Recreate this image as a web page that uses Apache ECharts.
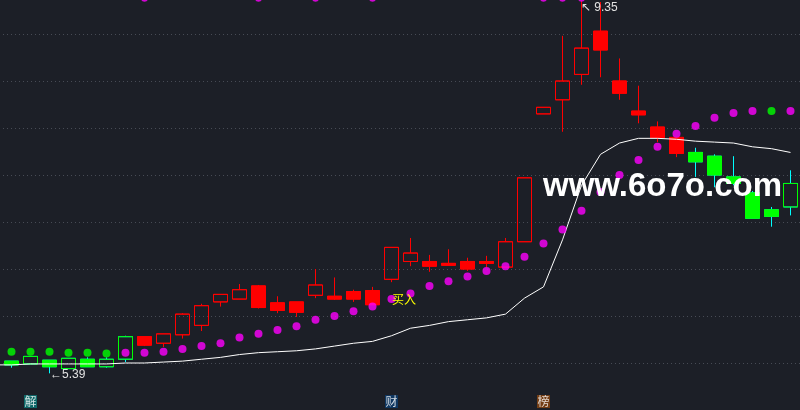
<!DOCTYPE html>
<html>
<head>
<meta charset="utf-8">
<script src="https://cdn.jsdelivr.net/npm/echarts@6/dist/echarts.min.js"></script>
<style>
html, body { margin: 0; padding: 0; background: #1c1f27; }
#main { width: 800px; height: 410px; }
</style>
</head>
<body>
<div id="main"></div>
<script>
// K-line data (first candle is cut by the left edge)
var days = ['1','2','3','4','5','6','7','8','9','10','11','12','13','14','15','16','17','18','19','20','21','22',
            '23','24','25','26','27','28','29','30','31','32','33','34','35','36','37','38','39','40','41','42','43'];

var openP  = [5.61, 5.52, 5.49, 5.53, 5.44, 5.54, 5.46, 5.54, 5.78, 5.71, 5.80, 5.90, 6.15, 6.18, 6.32, 6.14,
              6.15, 6.22, 6.21, 6.26, 6.27, 6.39, 6.58, 6.58, 6.56, 6.58, 6.58, 6.52, 6.79, 8.15, 8.30, 8.57,
              9.03, 8.50, 8.18, 8.01, 7.90, 7.74, 7.70, 7.48, 7.31, 7.13, 7.16];
var closeP = [5.50, 5.48, 5.57, 5.46, 5.55, 5.46, 5.54, 5.78, 5.69, 5.81, 6.02, 6.11, 6.23, 6.28, 6.09, 6.06,
              6.04, 6.33, 6.18, 6.18, 6.12, 6.73, 6.67, 6.53, 6.54, 6.50, 6.56, 6.79, 7.47, 8.22, 8.50, 8.85,
              8.83, 8.37, 8.14, 7.90, 7.73, 7.64, 7.50, 7.41, 7.04, 7.06, 7.41];
var lowP   = [5.48, 5.45, 5.49, 5.39, 5.44, 5.46, 5.45, 5.51, 5.68, 5.67, 5.76, 5.84, 6.10, 6.18, 6.08, 6.03,
              5.99, 6.19, 6.17, 6.15, 6.12, 6.36, 6.53, 6.47, 6.54, 6.48, 6.52, 6.52, 6.79, 8.15, 7.96, 8.46,
              8.54, 8.30, 8.05, 7.85, 7.69, 7.48, 7.37, 7.39, 7.04, 6.95, 7.07];
var highP  = [5.63, 5.52, 5.57, 5.53, 5.55, 5.56, 5.56, 5.79, 5.78, 5.81, 6.03, 6.13, 6.23, 6.34, 6.33, 6.21,
              6.15, 6.50, 6.41, 6.28, 6.31, 6.73, 6.83, 6.65, 6.71, 6.62, 6.64, 6.83, 7.47, 8.22, 8.98, 9.35,
              9.34, 8.74, 8.45, 8.07, 7.90, 7.79, 7.72, 7.70, 7.33, 7.16, 7.55];
// phase colour of each candle: r = red phase, g = green phase
var phase = ['g','g','g','g','g','g','g','g','r','r','r','r','r','r','r','r','r','r','r','r','r','r',
             'r','r','r','r','r','r','r','r','r','r','r','r','r','r','r','g','g','g','g','g','g'];

// stop-and-reverse dots
var sarP     = [5.62, 5.62, 5.62, 5.62, 5.61, 5.61, 5.60, 5.61, 5.61, 5.62, 5.65, 5.68, 5.71, 5.77, 5.81, 5.85,
                5.89, 5.96, 6.00, 6.05, 6.10, 6.18, 6.24, 6.32, 6.37, 6.42, 6.48, 6.53, 6.63, 6.77, 6.92, 7.12,
                7.32, 7.50, 7.66, 7.80, 7.94, 8.02, 8.11, 8.16, 8.18, 8.18, 8.18];
var sarPhase = ['g','g','g','g','g','g','g','m','m','m','m','m','m','m','m','m','m','m','m','m','m','m',
                'm','m','m','m','m','m','m','m','m','m','m','m','m','m','m','m','m','m','m','g','m'];

// white long average line
var avgLine = [5.48, 5.48, 5.49, 5.49, 5.49, 5.49, 5.49, 5.50, 5.50, 5.51, 5.52, 5.54, 5.56, 5.59, 5.61, 5.62,
               5.63, 5.65, 5.68, 5.71, 5.73, 5.79, 5.87, 5.90, 5.94, 5.96, 5.98, 6.02, 6.19, 6.31, 6.81, 7.39,
               7.72, 7.84, 7.89, 7.89, 7.88, 7.86, 7.85, 7.84, 7.80, 7.78, 7.74];

// dots cut by the top edge
var topIdx = [8, 14, 17, 20, 29, 30, 31];
var topLevel = 9.38;

// event tags at the bottom
var eventIdx = [2, 21, 29];
var eventText = ['解', '财', '榜'];
var eventLevel = 5.09;

var highIdx = 31, highVal = 9.35;
var lowIdx = 3, lowVal = 5.39;
var buyIdx = 21, buyLevel = 6.18;

var RED = '#ff0000', GREEN = '#00ff00', CYAN = '#00ffff', MAGENTA = '#ff00ff';
var eventColor = ['#0b7b7b', '#0d3d70', '#8a4510'];

var chartDom = document.getElementById('main');
var myChart = echarts.init(chartDom);

var kData = [];
var bodyData = [];
for (var i = 0; i < days.length; i++) {
    var col = phase[i] === 'r' ? RED : GREEN;
    var wick = phase[i] === 'r' ? RED : CYAN;
    // rising candles hollow, falling candles filled
    var fill = closeP[i] >= openP[i] ? 'transparent' : col;
    kData.push({
        value: [openP[i], closeP[i], lowP[i], highP[i]],
        itemStyle: { color: fill, color0: fill, borderColor: wick, borderColor0: wick }
    });
    // body only, so the green candles keep a green outline over the cyan wick
    bodyData.push({
        value: [openP[i], closeP[i], Math.min(openP[i], closeP[i]), Math.max(openP[i], closeP[i])],
        itemStyle: { color: fill, color0: fill, borderColor: col, borderColor0: col }
    });
}

var sarData = sarP.map(function (v, i) {
    return { value: [days[i], v], itemStyle: { color: sarPhase[i] === 'g' ? GREEN : MAGENTA } };
});

var labelFont = { fontFamily: 'Liberation Sans', fontSize: 12, color: '#e2e2e2' };

var option = {
    backgroundColor: '#1c1f27',
    animation: false,
    grid: { left: -17, right: 0, top: -13, bottom: -47, outerBoundsMode: 'none', containLabel: false },
    xAxis: {
        type: 'category',
        data: days,
        boundaryGap: true,
        axisLine: { show: false },
        axisTick: { show: false },
        axisLabel: { show: false },
        splitLine: { show: false }
    },
    yAxis: {
        type: 'value',
        min: 4.5,
        max: 9.5,
        interval: 0.5,
        axisLine: { show: false },
        axisTick: { show: false },
        axisLabel: { show: false },
        splitLine: { lineStyle: { color: '#474b55', width: 1, type: [1, 3] } }
    },
    series: [
        {
            name: 'K',
            type: 'candlestick',
            data: kData,
            barWidth: 14,
            itemStyle: { borderWidth: 1 },
            markPoint: {
                symbol: 'circle',
                symbolSize: 1,
                itemStyle: { color: 'rgba(0,0,0,0)' },
                data: [
                    {
                        coord: [days[highIdx], highVal],
                        label: Object.assign({ show: true, position: 'right', distance: 0,
                            offset: [-1, 7], formatter: '↖ ' + highVal.toFixed(2) }, labelFont)
                    },
                    {
                        coord: [days[lowIdx], lowVal],
                        label: Object.assign({ show: true, position: 'right', distance: 0,
                            offset: [0, 1], formatter: '←' + lowVal.toFixed(2) }, labelFont)
                    },
                    {
                        coord: [days[buyIdx], buyLevel],
                        label: { show: true, position: 'right', distance: 0, formatter: '买入',
                            color: '#ffff00', fontSize: 12, fontFamily: 'Noto Sans CJK SC' }
                    }
                ]
            }
        },
        {
            name: 'body',
            type: 'candlestick',
            data: bodyData,
            barWidth: 14,
            itemStyle: { borderWidth: 1 }
        },
        {
            name: 'avg',
            type: 'line',
            data: avgLine,
            showSymbol: false,
            symbol: 'none',
            lineStyle: { color: '#ffffff', width: 1 },
            z: 3
        },
        {
            name: 'sar',
            type: 'scatter',
            data: sarData,
            symbol: 'circle',
            symbolSize: 8,
            z: 4
        },
        {
            name: 'top',
            type: 'scatter',
            data: topIdx.map(function (i) { return [days[i], topLevel]; }),
            symbol: 'circle',
            symbolSize: 7,
            itemStyle: { color: MAGENTA },
            clip: false,
            z: 4
        },
        {
            name: 'events',
            type: 'scatter',
            data: eventIdx.map(function (i, n) {
                return { value: [days[i], eventLevel], name: eventText[n], itemStyle: { color: eventColor[n] } };
            }),
            symbol: 'rect',
            symbolSize: 13,
            label: {
                show: true,
                position: 'inside',
                formatter: '{b}',
                color: '#ffffff',
                fontSize: 12,
                fontFamily: 'Noto Sans CJK SC'
            },
            z: 5
        }
    ],
    graphic: [
        {
            type: 'text',
            left: 543,
            top: 170,
            z: 100,
            style: {
                text: 'www.6o7o.com',
                fill: '#ffffff',
                font: 'bold 33px "Liberation Sans"'
            }
        }
    ]
};

if (option && typeof option === "object") {
    myChart.setOption(option, true);
}
</script>
</body>
</html>
